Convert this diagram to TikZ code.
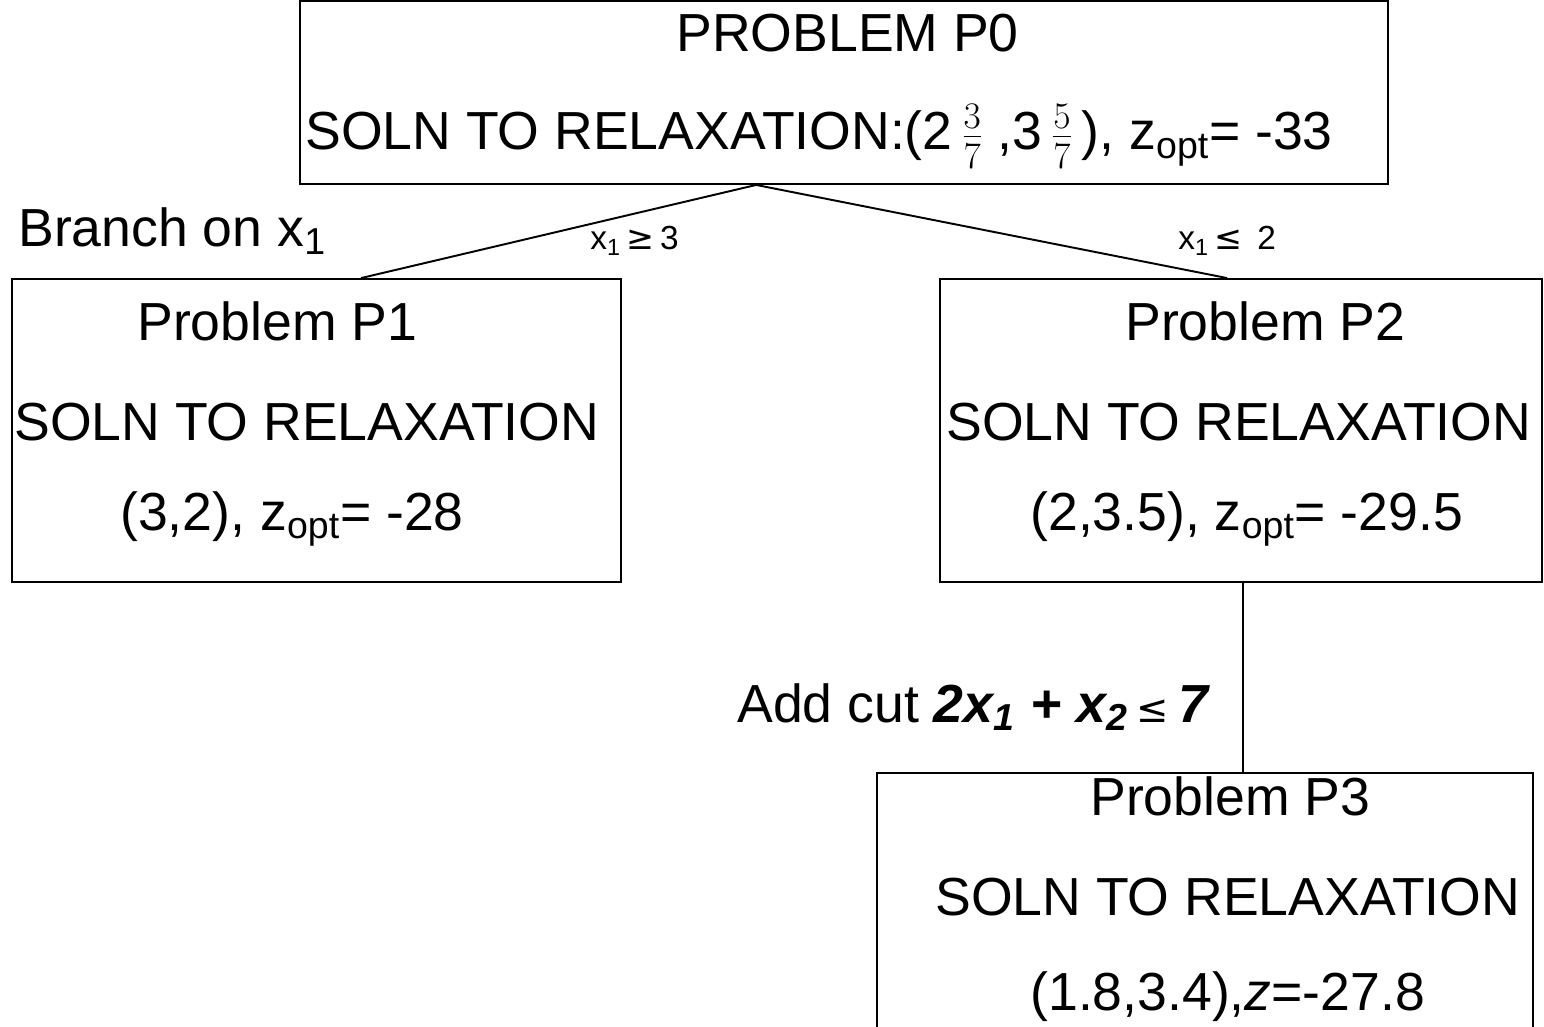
\documentclass[tikz,border=0pt]{standalone}
\usepackage{fix-cm}
\usepackage[no-math]{fontspec}
\setmainfont{Liberation Sans}
\newfontfamily\symfont{DejaVu Sans}
\usetikzlibrary{calc}
\newcommand{\zopt}{z\textsubscript{opt}}

\begin{document}
\begin{tikzpicture}[
  x=0.02cm, y=-0.02cm,
  box/.style={rectangle, draw, line width=1.1pt, inner sep=0pt},
  txt/.style={anchor=base west, inner sep=0pt, font=\fontsize{30.5}{36}\selectfont},
  small/.style={anchor=base west, inner sep=0pt, font=\fontsize{19}{23}\selectfont},
  link/.style={line width=1.1pt}
]
  \useasboundingbox (0,0) rectangle (1544,1027);
  \clip (0,0) rectangle (1544,1027);

  \node[box, minimum width=21.76cm, minimum height=3.66cm] (p0) at (844,92.5) {};
  \node[box, minimum width=12.18cm, minimum height=6.06cm] (p1) at (316.5,430.5) {};
  \node[box, minimum width=12.04cm, minimum height=6.06cm] (p2) at (1241,430.5) {};
  \node[box, minimum width=13.12cm, minimum height=5.74cm] (p3) at (1205,916.5) {};

  \node[txt] (p0a) at (676,52) {PROBLEM P0};
  \node[txt] (p0b) at (305,150) {SOLN TO RELAXATION:(2\,$\frac{3}{7}$\;,3\,$\frac{5}{7}$\,), \zopt= -33};
  \node[txt] (p1a) at (137,340) {Problem P1};
  \node[txt] (p1b) at (14,440) {SOLN TO RELAXATION};
  \node[txt] (p1c) at (120,530) {(3,2), \zopt= -28};
  \node[txt] (p2a) at (1125,340) {Problem P2};
  \node[txt] (p2b) at (946,440) {SOLN TO RELAXATION};
  \node[txt] (p2c) at (1030,530) {(2,3.5), \zopt= -29.5};
  \node[txt] (p3a) at (1090,815) {Problem P3};
  \node[txt] (p3b) at (935,915) {SOLN TO RELAXATION};
  \node[txt] (p3c) at (1030,1010) {(1.8,3.4),\textit{z}=-27.8};

  \node[txt] (branch) at (18,246) {Branch on x\textsubscript{1}};
  \node[small] (geq) at (590,250) {x\textsubscript{1}\,{\symfont ≥}\,3};
  \node[small] (leq) at (1178,250) {x\textsubscript{1}\,{\symfont ≤}\, 2};
  \node[txt] (cut) at (737,722) {Add cut {\bfseries\itshape 2x\textsubscript{1} + x\textsubscript{2}\,{\normalfont\symfont\fontsize{22}{26}\selectfont ≤}\,7}};

  \coordinate (fork) at ($(p0.south west)+(457,0)$);
  \coordinate (drop) at ($(p2.south west)+(304,0)$);
  \draw[link] (fork) -- ($(p1.north west)+(350,0)$);
  \draw[link] (fork) -- ($(p2.north west)+(288,0)$);
  \draw[link] (drop) -- (drop |- p3.north);
\end{tikzpicture}
\end{document}
